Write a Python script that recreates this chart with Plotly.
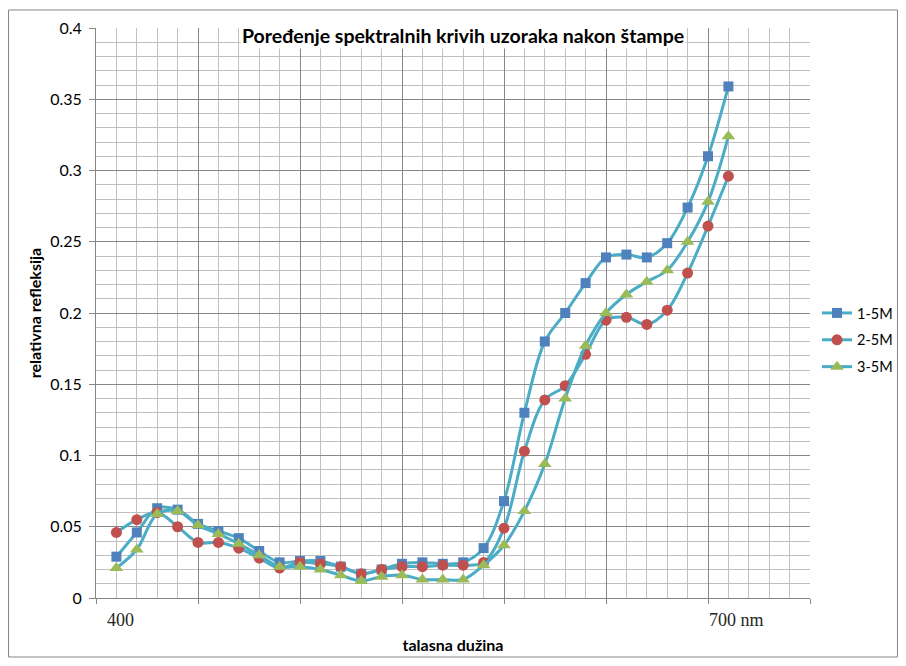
import plotly.graph_objects as go

wavelength = list(range(400, 701, 10))

series_1_5M = [0.029, 0.046, 0.063, 0.062, 0.052, 0.047, 0.042, 0.033, 0.025, 0.026,
               0.026, 0.022, 0.017, 0.020, 0.024, 0.025, 0.024, 0.025, 0.035, 0.068,
               0.130, 0.180, 0.200, 0.221, 0.239, 0.241, 0.239, 0.249, 0.274, 0.310, 0.359]
series_2_5M = [0.046, 0.055, 0.060, 0.050, 0.039, 0.039, 0.035, 0.028, 0.021, 0.025,
               0.024, 0.022, 0.017, 0.020, 0.022, 0.022, 0.023, 0.023, 0.025, 0.049,
               0.103, 0.139, 0.149, 0.171, 0.195, 0.197, 0.192, 0.202, 0.228, 0.261, 0.296]
series_3_5M = [0.021, 0.034, 0.059, 0.061, 0.051, 0.045, 0.038, 0.030, 0.022, 0.022,
               0.020, 0.016, 0.012, 0.015, 0.016, 0.013, 0.013, 0.013, 0.023, 0.037,
               0.061, 0.094, 0.140, 0.177, 0.200, 0.213, 0.222, 0.230, 0.250, 0.278, 0.324]

series_names = ["1-5M", "2-5M", "3-5M"]
x_label_texts = ["400", "700 nm"]
x_label_values = [402, 704]

title_text = "Poređenje spektralnih krivih uzoraka nakon štampe"
y_title = "relativna refleksija"
x_title = "talasna dužina"

LINE = "#4BACC6"
styles = [
    dict(symbol="square", color="#4F81BD", size=10),
    dict(symbol="circle", color="#C0504D", size=11),
    dict(symbol="triangle-up", color="#9BBB59", size=12),
]

fig = go.Figure()
for name, vals, st, grp in zip(series_names, [series_1_5M, series_2_5M, series_3_5M], styles, ["a", "b", "c"]):
    fig.add_trace(go.Scatter(
        x=wavelength, y=vals, name=name, mode="lines+markers",
        line=dict(color=LINE, width=3, shape="spline", smoothing=1),
        marker=dict(symbol=st["symbol"], color=st["color"], size=st["size"],
                    line=dict(width=0)),
        legendgroup=grp,
    ))

MAJOR = "#868686"
MINOR = "#C0C0C0"
FONT = "Lato"

fig.update_layout(
    width=890, height=650,
    margin=dict(l=88, r=88, t=20, b=60, pad=0, autoexpand=False),
    paper_bgcolor="white", plot_bgcolor="white",
    font=dict(family=FONT, color="#000000"),
    showlegend=True,
    legend=dict(x=1.0098, xanchor="left", y=0.4526, yanchor="middle",
                font=dict(family=FONT, size=14.5, color="#000000"),
                tracegroupgap=5, itemwidth=30, borderwidth=0, bgcolor="rgba(0,0,0,0)"),
    xaxis=dict(range=[390, 740], tick0=390, dtick=50, tickmode="linear", automargin=False,
               showgrid=True, gridcolor=MAJOR, gridwidth=1,
               minor=dict(dtick=10, tick0=390, showgrid=True, gridcolor=MINOR, gridwidth=1),
               showline=True, linecolor=MAJOR, linewidth=1,
               ticks="outside", ticklen=5, tickcolor=MAJOR,
               showticklabels=False, zeroline=False,
               title=dict(text="<b>" + x_title + "</b>", font=dict(family=FONT, size=16), standoff=36)),
    yaxis=dict(range=[0, 0.4], tick0=0, dtick=0.05, tickmode="linear", automargin=False,
               showgrid=True, gridcolor=MAJOR, gridwidth=1,
               minor=dict(dtick=0.01, tick0=0, showgrid=True, gridcolor=MINOR, gridwidth=1),
               showline=True, linecolor=MAJOR, linewidth=1,
               ticks="outside", ticklen=6, tickcolor=MAJOR,
               tickfont=dict(family=FONT, size=16, color="#000000"),
               ticklabelstandoff=4, zeroline=False,
               title=dict(text="<b>" + y_title + "</b>", font=dict(family=FONT, size=16), standoff=4)),
)

for txt, xv in zip(x_label_texts, x_label_values):
    fig.add_annotation(x=xv, y=-0.038, xref="x", yref="paper", text=txt, showarrow=False,
                       xanchor="center", yanchor="middle",
                       font=dict(family="Liberation Serif", size=18, color="#262626"))

fig.add_annotation(x=0.514, y=0.9877, xref="paper", yref="paper", text="<b>" + title_text + "</b>",
                   showarrow=False, xanchor="center", yanchor="middle", bgcolor="white",
                   borderpad=1, font=dict(family=FONT, size=19.5, color="#000000"))

fig.add_shape(type="rect", xref="paper", yref="paper", x0=-0.1225, x1=1.1225, y0=-0.1035, y1=1.0316,
              line=dict(color=MAJOR, width=1), fillcolor="rgba(0,0,0,0)", layer="below")

fig.write_html("out.html")
